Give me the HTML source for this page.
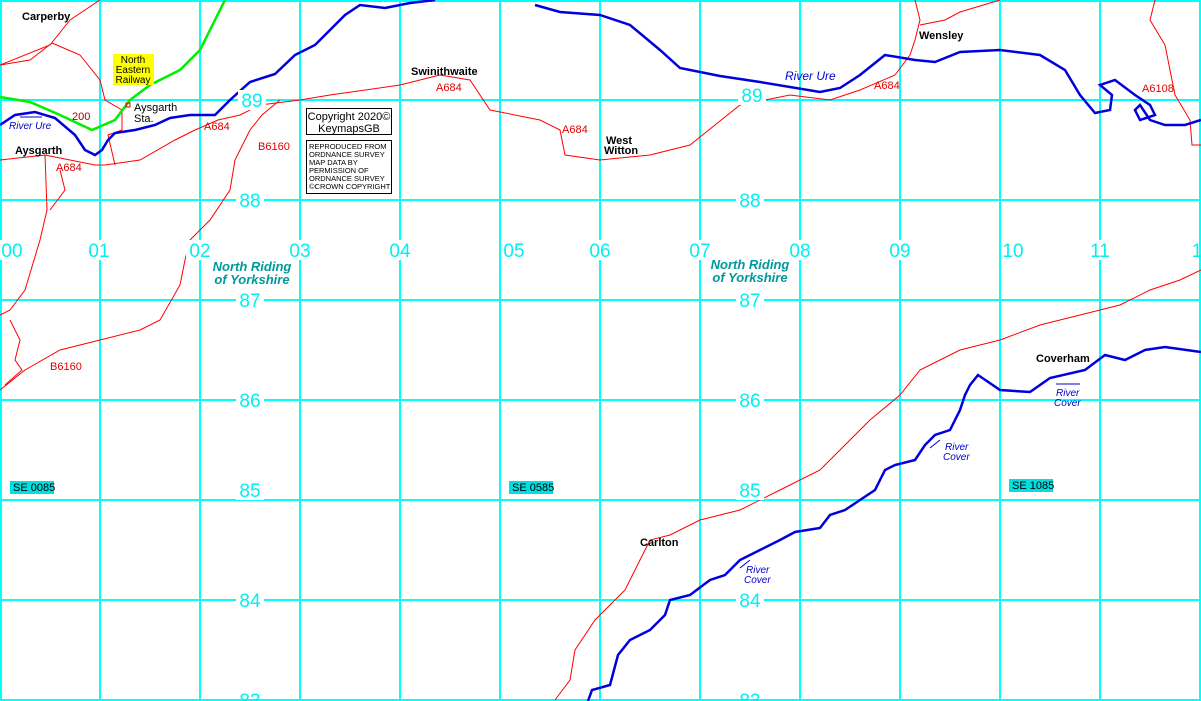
<!DOCTYPE html>
<html><head><meta charset="utf-8"><style>
body{margin:0;background:#fff}
svg{display:block}
.g{stroke:#00ffff;stroke-width:2}
.r{fill:none;stroke:#ff0000;stroke-width:1}
.b{fill:none;stroke:#0000dd;stroke-width:2.5}
.n{font:19px "Liberation Sans",sans-serif;fill:#00f0f0;text-anchor:middle}
.nb{fill:#fff}
.p{font:bold 11px "Liberation Sans",sans-serif;fill:#000}
.rl{font:11px "Liberation Sans",sans-serif;fill:#e00000}
.cty{font:italic bold 13px "Liberation Sans",sans-serif;fill:#009999;text-anchor:middle}
.rv{font:italic 10px "Liberation Sans",sans-serif;fill:#0000cc}
.se{font:11px "Liberation Sans",sans-serif;fill:#000}
</style></head><body>
<svg width="1201" height="701" viewBox="0 0 1201 701">
<rect width="1201" height="701" fill="#fff"/>
<g class="g">
<line x1="1" y1="0" x2="1" y2="701"/><line x1="100" y1="0" x2="100" y2="701"/><line x1="200" y1="0" x2="200" y2="701"/><line x1="300" y1="0" x2="300" y2="701"/><line x1="400" y1="0" x2="400" y2="701"/><line x1="500" y1="0" x2="500" y2="701"/><line x1="600" y1="0" x2="600" y2="701"/><line x1="700" y1="0" x2="700" y2="701"/><line x1="800" y1="0" x2="800" y2="701"/><line x1="900" y1="0" x2="900" y2="701"/><line x1="1000" y1="0" x2="1000" y2="701"/><line x1="1100" y1="0" x2="1100" y2="701"/><line x1="1200" y1="0" x2="1200" y2="701"/>
<line x1="0" y1="1" x2="1201" y2="1"/><line x1="0" y1="100" x2="1201" y2="100"/><line x1="0" y1="200" x2="1201" y2="200"/><line x1="0" y1="300" x2="1201" y2="300"/><line x1="0" y1="400" x2="1201" y2="400"/><line x1="0" y1="500" x2="1201" y2="500"/><line x1="0" y1="600" x2="1201" y2="600"/><line x1="0" y1="700" x2="1201" y2="700"/>
</g>
<g class="r">
<path d="M0,65 L50,45 L70,20 L100,0"/>
<path d="M52,43 L80,55 L100,80 L105,100 L122,110 L122,130 L108,135 L115,165"/>
<path d="M0,160 L45,155 L95,165 L105,165 L140,160 L175,140 L195,130 L218,120 L240,115 L260,105 L300,100 L330,95 L400,85 L440,75 L470,80 L490,110 L540,120 L560,130 L565,155 L600,160 L650,155 L690,145 L715,125 L740,105 L790,95 L830,100 L860,90 L895,75 L910,55 L915,40 L920,20 L915,0"/>
<path d="M0,65 L30,60 L52,43"/>
<path d="M45,155 L47,210 L40,240 L25,290 L10,310 L0,315"/>
<path d="M60,170 L65,190 L50,210"/>
<path d="M280,100 L262,115 L250,130 L235,160 L230,190 L210,220 L190,240 L185,260 L180,285 L160,320 L140,330 L100,340 L60,350 L25,370 L0,390"/>
<path d="M10,320 L20,340 L15,360 L22,370 L5,385"/>
<path d="M555,700 L570,680 L575,650 L595,620 L610,605 L625,590 L640,560 L650,540 L670,535 L700,520 L740,510 L780,490 L820,470 L850,440 L870,420 L900,395 L920,370 L940,360 L960,350 L980,345 L1000,340 L1040,325 L1080,315 L1120,305 L1150,290 L1180,280 L1201,270"/>
<path d="M920,25 L945,20 L960,12 L1000,0"/>
<path d="M1155,0 L1150,20 L1165,45 L1170,70 L1175,95 L1190,120 L1192,145 L1201,145"/>
</g>
<path d="M0,97 L30,102 L60,115 L92,130 L115,120 L130,100 L150,85 L180,70 L200,50 L215,20 L225,0" fill="none" stroke="#00ee00" stroke-width="2.5"/>
<g class="b">
<path d="M0,125 L15,115 L35,112 L55,118 L75,135 L85,150 L95,155 L102,150 L108,140 L115,133 L135,130 L155,125 L170,118 L190,115 L215,115 L230,100 L250,82 L275,74 L295,55 L315,45 L330,30 L345,15 L360,5 L385,8 L410,3 L435,0"/>
<path d="M535,5 L560,12 L600,15 L630,25 L660,50 L680,68 L720,76 L760,82 L820,92 L840,88 L860,75 L885,55 L915,60 L935,62 L960,52 L1000,50 L1040,55 L1065,70 L1080,95 L1095,113 L1110,110 L1112,95 L1100,85 L1115,80 L1135,95 L1150,105 L1155,115 L1140,120 L1135,110 L1140,105 L1150,120 L1165,125 L1185,125 L1201,120"/>
<path d="M588,701 L592,690 L610,685 L618,655 L630,640 L650,630 L665,615 L670,600 L690,595 L710,580 L725,575 L740,560 L760,550 L780,540 L795,532 L820,528 L830,515 L845,510 L860,500 L875,490 L885,470 L895,465 L915,460 L925,445 L935,435 L950,430 L960,410 L965,395 L970,385 L978,375 L1000,390 L1030,392 L1050,378 L1085,370 L1105,355 L1125,360 L1145,350 L1165,347 L1201,352"/>
</g>
<g>
<rect x="0" y="240" width="26" height="20" class="nb"/><text x="12" y="257" class="n">00</text>
<rect x="86" y="240" width="28" height="20" class="nb"/><text x="99" y="257" class="n">01</text>
<rect x="186" y="240" width="28" height="20" class="nb"/><text x="200" y="257" class="n">02</text>
<rect x="286" y="240" width="28" height="20" class="nb"/><text x="300" y="257" class="n">03</text>
<rect x="386" y="240" width="28" height="20" class="nb"/><text x="400" y="257" class="n">04</text>
<rect x="502" y="240" width="26" height="20" class="nb"/><text x="514" y="257" class="n">05</text>
<rect x="586" y="240" width="28" height="20" class="nb"/><text x="600" y="257" class="n">06</text>
<rect x="686" y="240" width="28" height="20" class="nb"/><text x="700" y="257" class="n">07</text>
<rect x="786" y="240" width="28" height="20" class="nb"/><text x="800" y="257" class="n">08</text>
<rect x="886" y="240" width="28" height="20" class="nb"/><text x="900" y="257" class="n">09</text>
<rect x="1002" y="240" width="26" height="20" class="nb"/><text x="1013" y="257" class="n">10</text>
<rect x="1086" y="240" width="28" height="20" class="nb"/><text x="1100" y="257" class="n">11</text>
<rect x="1187" y="240" width="12" height="20" class="nb"/><text x="1197" y="257" class="n">1</text>
<rect x="238" y="90" width="28" height="20" class="nb"/><text x="252" y="107" class="n">89</text>
<rect x="738" y="85" width="28" height="20" class="nb"/><text x="752" y="102" class="n">89</text>
<rect x="236" y="190" width="28" height="20" class="nb"/><text x="250" y="207" class="n">88</text>
<rect x="736" y="190" width="28" height="20" class="nb"/><text x="750" y="207" class="n">88</text>
<rect x="236" y="290" width="28" height="20" class="nb"/><text x="250" y="307" class="n">87</text>
<rect x="736" y="290" width="28" height="20" class="nb"/><text x="750" y="307" class="n">87</text>
<rect x="236" y="390" width="28" height="20" class="nb"/><text x="250" y="407" class="n">86</text>
<rect x="736" y="390" width="28" height="20" class="nb"/><text x="750" y="407" class="n">86</text>
<rect x="236" y="480" width="28" height="20" class="nb"/><text x="250" y="497" class="n">85</text>
<rect x="736" y="480" width="28" height="20" class="nb"/><text x="750" y="497" class="n">85</text>
<rect x="236" y="590" width="28" height="20" class="nb"/><text x="250" y="607" class="n">84</text>
<rect x="736" y="590" width="28" height="20" class="nb"/><text x="750" y="607" class="n">84</text>
<text x="250" y="707" class="n">83</text><text x="750" y="707" class="n">83</text>
</g>
<text x="252" y="271" class="cty">North Riding</text><text x="252" y="284" class="cty">of Yorkshire</text>
<text x="750" y="269" class="cty">North Riding</text><text x="750" y="282" class="cty">of Yorkshire</text>
<text x="22" y="20" class="p">Carperby</text>
<text x="15" y="154" class="p">Aysgarth</text>
<text x="411" y="75" class="p">Swinithwaite</text>
<text x="606" y="144" class="p">West</text><text x="604" y="154" class="p">Witton</text>
<text x="919" y="39" class="p">Wensley</text>
<text x="1036" y="362" class="p">Coverham</text>
<text x="640" y="546" class="p">Carlton</text>
<rect x="113" y="54" width="41" height="31" fill="#ffff00"/>
<text x="133" y="63" font-family="Liberation Sans" font-size="10" text-anchor="middle">North</text>
<text x="133" y="73" font-family="Liberation Sans" font-size="10" text-anchor="middle">Eastern</text>
<text x="133" y="83" font-family="Liberation Sans" font-size="10" text-anchor="middle">Railway</text>
<rect x="126" y="103" width="4" height="4" fill="none" stroke="#e00000"/>
<text x="134" y="111" font-family="Liberation Sans" font-size="11">Aysgarth</text><text x="134" y="122" font-family="Liberation Sans" font-size="11">Sta.</text>
<text x="72" y="120" class="rl" style="fill:#900">200</text>
<text x="56" y="171" class="rl">A684</text>
<text x="204" y="130" class="rl">A684</text>
<text x="258" y="150" class="rl">B6160</text>
<text x="436" y="91" class="rl">A684</text>
<text x="562" y="133" class="rl">A684</text>
<text x="874" y="89" class="rl">A684</text>
<text x="1142" y="92" class="rl">A6108</text>
<text x="50" y="370" class="rl">B6160</text>
<text x="9" y="129" class="rv">River Ure</text>
<line x1="20" y1="117" x2="42" y2="117" stroke="#0000cc"/>
<text x="785" y="80" style="font:italic 12px 'Liberation Sans',sans-serif;fill:#0000cc">River Ure</text>
<line x1="1056" y1="384" x2="1080" y2="384" stroke="#0000cc"/>
<text x="1056" y="396" class="rv">River</text><text x="1054" y="406" class="rv">Cover</text>
<line x1="930" y1="448" x2="940" y2="440" stroke="#0000cc"/>
<text x="945" y="450" class="rv">River</text><text x="943" y="460" class="rv">Cover</text>
<line x1="740" y1="568" x2="750" y2="560" stroke="#0000cc"/>
<text x="746" y="573" class="rv">River</text><text x="744" y="583" class="rv">Cover</text>
<rect x="306.5" y="108.5" width="85" height="26" fill="#fff" stroke="#000"/>
<text x="349" y="120" font-family="Liberation Sans" font-size="11" text-anchor="middle">Copyright 2020©</text>
<text x="349" y="132" font-family="Liberation Sans" font-size="11" text-anchor="middle">KeymapsGB</text>
<rect x="306.5" y="140.5" width="85" height="53" fill="#fff" stroke="#000"/>
<g font-family="Liberation Sans" font-size="7.5">
<text x="309" y="149">REPRODUCED FROM</text><text x="309" y="157">ORDNANCE SURVEY</text><text x="309" y="165">MAP DATA BY</text><text x="309" y="173">PERMISSION OF</text><text x="309" y="181">ORDNANCE SURVEY</text><text x="309" y="189">©CROWN COPYRIGHT</text>
</g>
<rect x="10" y="481" width="44" height="13" fill="#00e0e0"/><text x="13" y="491" class="se">SE 0085</text>
<rect x="509" y="481" width="44" height="13" fill="#00e0e0"/><text x="512" y="491" class="se">SE 0585</text>
<rect x="1009" y="479" width="44" height="13" fill="#00e0e0"/><text x="1012" y="489" class="se">SE 1085</text>
</svg>
</body></html>
